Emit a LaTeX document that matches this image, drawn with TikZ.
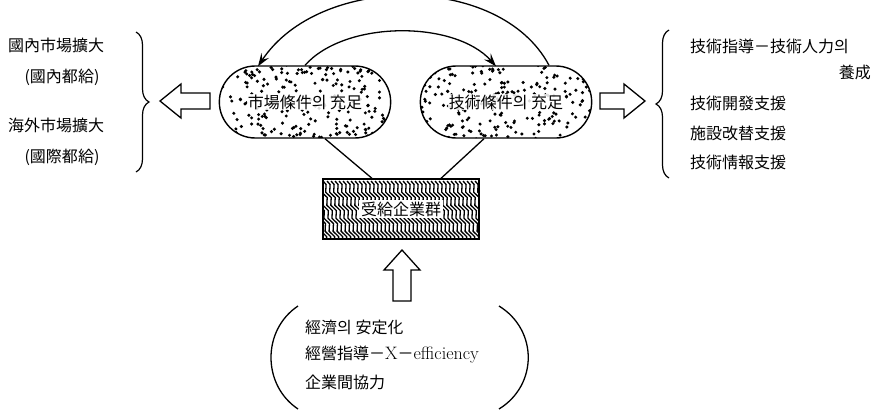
\documentclass[tikz,border=0pt]{standalone}
\usepackage{fontspec}
\newfontfamily\cjk{Noto Sans CJK KR}
\usetikzlibrary{shapes.misc,decorations.pathreplacing,decorations.pathmorphing,arrows.meta,calc}

\begin{document}
\begin{tikzpicture}[x=1pt,y=-1pt,
    txt/.style={font=\cjk\fontsize{16}{18}\selectfont, inner sep=0pt},
    pill/.style={rounded rectangle, draw, line width=1.4pt, minimum width=178pt, minimum height=72pt,
      path picture={
        \pgfmathsetseed{#1}
        \foreach \i in {1,...,220}{
          \pgfmathsetmacro{\dx}{rnd*180-90}
          \pgfmathsetmacro{\dy}{rnd*74-37}
          \fill ($(path picture bounding box.center)+(\dx pt,\dy pt)$) circle (1.7pt);
        }
      }},
    hollow/.style={draw, line width=1.3pt, fill=white, line join=miter},
    link/.style={line width=1.3pt},
    curly/.style={line width=1.2pt, decorate, decoration={brace, amplitude=13pt}},
    arcline/.style={line width=1.3pt, -{Stealth[length=13pt,width=9pt,inset=5pt]}}]
\useasboundingbox (0,0) rectangle (880,413);

% left market texts
\node[txt, anchor=west] (dom) at (8,45) {國內市場擴大};
\node[txt] (domsd) at (62,77) {(國內都給)};
\node[txt, anchor=west] (ovs) at (8,125) {海外市場擴大};
\node[txt] (ovssd) at (62,157) {(國際都給)};
\draw[curly] (136,32) -- (136,172);

% the two conditions
\node[pill=17] (mkt) at (305,102) {};
\node[txt, fill=white, fill opacity=0.85, text opacity=1, inner sep=1pt] at (mkt) {市場條件의 充足};
\node[pill=41] (tech) at (506,102) {};
\node[txt, fill=white, fill opacity=0.85, text opacity=1, inner sep=1pt] at (tech) {技術條件의 充足};

% hollow arrows left and right
\draw[hollow] (160,101) -- (181,84) -- (181,93) -- (210,93) -- (210,109) -- (181,109) -- (181,118) -- cycle;
\draw[hollow] (645,101) -- (624,84) -- (624,93) -- (600,93) -- (600,109) -- (624,109) -- (624,118) -- cycle;

% right technology texts
\draw[curly] (669,178) -- (669,30);
\node[txt, anchor=west] (guide) at (690,46) {技術指導－技術人力의};
\node[txt, anchor=east] (train) at (871,72) {養成};
\node[txt, anchor=west] (dev) at (690,103) {技術開發支援};
\node[txt, anchor=west] (fac) at (690,133) {施設改替支援};
\node[txt, anchor=west] (info) at (690,162) {技術情報支援};

% arcs between the conditions
\draw[arcline] ($(tech.north)+(43,0)$) .. controls (500,-27) and (320,-27) .. ($(mkt.north)+(-47,1)$);
\draw[arcline] (mkt.north) .. controls (345,20) and (455,20) .. ($(tech.north)+(-10,1)$);

% supplier firms
\node[draw, line width=1.3pt, minimum width=156pt, minimum height=60pt, inner sep=0pt,
      path picture={
        \foreach \k in {-40,-36,...,200}{
          \draw[line width=1.3pt, decorate, decoration={snake, amplitude=1.6pt, segment length=14pt}]
            ($(path picture bounding box.north west)+(\k pt,-2pt)$) -- ++(26pt,-66pt);
        }
      }] (firms) at (401,209) {};
\node[txt, fill=white, inner sep=2pt] (firmtxt) at (firms) {受給企業群};
\draw[link] ($(mkt.south)+(20,0)$) -- ($(firms.north)+(-29,0)$);
\draw[link] ($(tech.south)+(-22,0)$) -- ($(firms.north)+(40,0)$);

% hollow arrow up
\draw[hollow] (402,250) -- (384,270) -- (393,270) -- (393,301) -- (411,301) -- (411,270) -- (420,270) -- cycle;

% bottom texts
\node[txt, anchor=west] (stab) at (305,327) {經濟의 安定化};
\node[txt, anchor=west] (mgmt) at (305,355) {經營指導－{\rmfamily\fontsize{18}{18}\selectfont X}－{\rmfamily\fontsize{18}{18}\selectfont efficiency}};
\node[txt, anchor=west] (coop) at (305,382) {企業間協力};
\draw[line width=1.3pt] (298,306) .. controls (262,330) and (262,385) .. (298,409);
\draw[line width=1.3pt] (499,306) .. controls (538,330) and (538,385) .. (499,409);
\end{tikzpicture}
\end{document}
